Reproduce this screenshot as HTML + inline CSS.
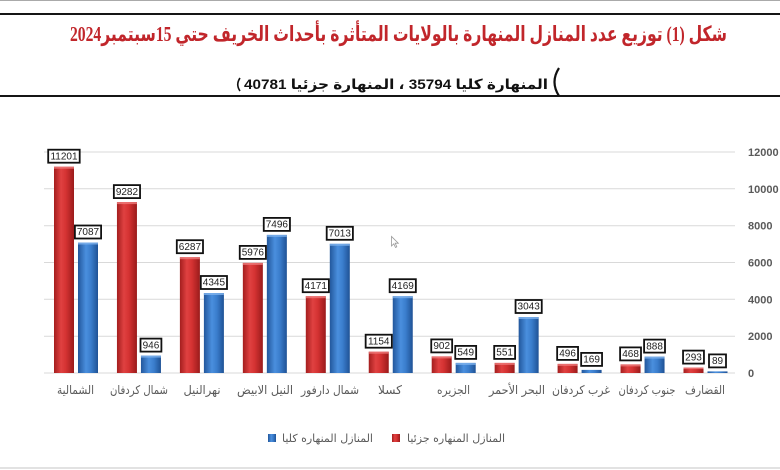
<!DOCTYPE html>
<html>
<head>
<meta charset="utf-8">
<style>
html,body{margin:0;padding:0;background:#fff;}
svg{display:block;}
</style>
</head>
<body>
<svg width="780" height="470" viewBox="0 0 780 470" xmlns="http://www.w3.org/2000/svg">
<defs>
<linearGradient id="rg" x1="0" y1="0" x2="1" y2="0">
<stop offset="0" stop-color="#a41e1e"/>
<stop offset="0.35" stop-color="#e04141"/>
<stop offset="0.6" stop-color="#d43232"/>
<stop offset="1" stop-color="#9a1b1b"/>
</linearGradient>
<linearGradient id="bg" x1="0" y1="0" x2="1" y2="0">
<stop offset="0" stop-color="#22579c"/>
<stop offset="0.4" stop-color="#4a8fde"/>
<stop offset="0.65" stop-color="#3a7dcc"/>
<stop offset="1" stop-color="#1f5295"/>
</linearGradient>
</defs>
<rect x="0" y="0" width="780" height="470" fill="#fff"/>
<rect x="0" y="0" width="780" height="1" fill="#aaa"/>
<rect x="0" y="13" width="780" height="2" fill="#151515"/>
<rect x="0" y="95" width="780" height="2" fill="#151515"/>
<rect x="0" y="467" width="780" height="2" fill="#e2e2e2"/>

<!-- title -->
<text x="398.5" y="41" text-anchor="middle" direction="rtl" textLength="657" lengthAdjust="spacingAndGlyphs" font-family="Liberation Serif, DejaVu Sans, serif" font-weight="bold" font-size="21" fill="#c1262b">شكل (1) توزيع عدد المنازل المنهارة بالولايات المتأثرة بأحداث الخريف حتي 15سبتمبر2024</text>

<!-- subtitle -->
<text x="396" y="89" text-anchor="middle" direction="rtl" textLength="304" lengthAdjust="spacingAndGlyphs" font-family="Liberation Sans, DejaVu Sans, sans-serif" font-weight="bold" font-size="14" fill="#111">المنهارة  كليا 35794 ، المنهارة جزئيا 40781</text>
<path d="M240 78 Q235.5 84.5 240 91" fill="none" stroke="#111" stroke-width="1.6"/>
<path d="M559 68 Q550 82 559 96" fill="none" stroke="#111" stroke-width="2.2"/>

<!-- gridlines -->
<g stroke="#d9d9d9" stroke-width="1">
<line x1="44" y1="152" x2="735" y2="152"/>
<line x1="44" y1="188.8" x2="735" y2="188.8"/>
<line x1="44" y1="225.7" x2="735" y2="225.7"/>
<line x1="44" y1="262.5" x2="735" y2="262.5"/>
<line x1="44" y1="299.3" x2="735" y2="299.3"/>
<line x1="44" y1="336.2" x2="735" y2="336.2"/>
<line x1="44" y1="373" x2="735" y2="373"/>
</g>

<!-- axis labels -->
<g font-family="Liberation Sans, sans-serif" font-weight="bold" font-size="11" fill="#5a5a5a">
<text x="748" y="156">12000</text>
<text x="748" y="192.8">10000</text>
<text x="748" y="229.7">8000</text>
<text x="748" y="266.5">6000</text>
<text x="748" y="303.3">4000</text>
<text x="748" y="340.2">2000</text>
<text x="748" y="377">0</text>
</g>

<!-- red bars -->
<g fill="url(#rg)">
<rect x="54" y="166.7" width="20" height="206.3"/>
<rect x="116.95" y="202.1" width="20" height="170.9"/>
<rect x="179.9" y="257.2" width="20" height="115.8"/>
<rect x="242.85" y="262.9" width="20" height="110.1"/>
<rect x="305.8" y="296.2" width="20" height="76.8"/>
<rect x="368.75" y="351.7" width="20" height="21.3"/>
<rect x="431.7" y="356.4" width="20" height="16.6"/>
<rect x="494.65" y="362.9" width="20" height="10.1"/>
<rect x="557.6" y="363.9" width="20" height="9.1"/>
<rect x="620.55" y="364.4" width="20" height="8.6"/>
<rect x="683.5" y="367.6" width="20" height="5.4"/>
</g>
<g fill="#ef7a7a" opacity="0.8">
<rect x="54" y="166.7" width="20" height="2"/>
<rect x="116.95" y="202.1" width="20" height="2"/>
<rect x="179.9" y="257.2" width="20" height="2"/>
<rect x="242.85" y="262.9" width="20" height="2"/>
<rect x="305.8" y="296.2" width="20" height="2"/>
<rect x="368.75" y="351.7" width="20" height="2"/>
<rect x="431.7" y="356.4" width="20" height="2"/>
<rect x="494.65" y="362.9" width="20" height="2"/>
<rect x="557.6" y="363.9" width="20" height="2"/>
<rect x="620.55" y="364.4" width="20" height="2"/>
<rect x="683.5" y="367.6" width="20" height="1.5"/>
</g>

<!-- blue bars -->
<g fill="url(#bg)">
<rect x="78" y="242.5" width="20" height="130.5"/>
<rect x="140.95" y="355.6" width="20" height="17.4"/>
<rect x="203.9" y="293" width="20" height="80"/>
<rect x="266.85" y="234.9" width="20" height="138.1"/>
<rect x="329.8" y="243.8" width="20" height="129.2"/>
<rect x="392.75" y="296.2" width="20" height="76.8"/>
<rect x="455.7" y="362.9" width="20" height="10.1"/>
<rect x="518.65" y="317" width="20" height="56"/>
<rect x="581.6" y="369.9" width="20" height="3.1"/>
<rect x="644.55" y="356.6" width="20" height="16.4"/>
<rect x="707.5" y="371.4" width="20" height="1.6"/>
</g>
<g fill="#7fb3ee" opacity="0.8">
<rect x="78" y="242.5" width="20" height="2"/>
<rect x="140.95" y="355.6" width="20" height="2"/>
<rect x="203.9" y="293" width="20" height="2"/>
<rect x="266.85" y="234.9" width="20" height="2"/>
<rect x="329.8" y="243.8" width="20" height="2"/>
<rect x="392.75" y="296.2" width="20" height="2"/>
<rect x="455.7" y="362.9" width="20" height="2"/>
<rect x="518.65" y="317" width="20" height="2"/>
<rect x="644.55" y="356.6" width="20" height="2"/>
</g>

<!-- value label boxes -->
<g fill="#fff" stroke="#111" stroke-width="1.8">
<rect x="48.2" y="149.7" width="31.5" height="13"/>
<rect x="74.9" y="225.5" width="26.2" height="13"/>
<rect x="113.85" y="185.1" width="26.2" height="13"/>
<rect x="140.5" y="338.6" width="20.9" height="13"/>
<rect x="176.8" y="240.2" width="26.2" height="13"/>
<rect x="200.8" y="276" width="26.2" height="13"/>
<rect x="239.75" y="245.9" width="26.2" height="13"/>
<rect x="263.75" y="217.9" width="26.2" height="13"/>
<rect x="302.7" y="279.2" width="26.2" height="13"/>
<rect x="326.7" y="226.8" width="26.2" height="13"/>
<rect x="365.65" y="334.7" width="26.2" height="13"/>
<rect x="389.65" y="279.2" width="26.2" height="13"/>
<rect x="431.25" y="339.4" width="20.9" height="13"/>
<rect x="455.25" y="345.9" width="20.9" height="13"/>
<rect x="494.2" y="345.9" width="20.9" height="13"/>
<rect x="515.55" y="300" width="26.2" height="13"/>
<rect x="557.15" y="346.9" width="20.9" height="13"/>
<rect x="581.15" y="352.9" width="20.9" height="13"/>
<rect x="620.1" y="347.4" width="20.9" height="13"/>
<rect x="644.1" y="339.6" width="20.9" height="13"/>
<rect x="683.05" y="350.6" width="20.9" height="13"/>
<rect x="709" y="354.4" width="17" height="13"/>
</g>
<g font-family="Liberation Sans, sans-serif" font-size="10" fill="#222" text-anchor="middle">
<text x="64" y="159.4">11201</text>
<text x="88" y="235.2">7087</text>
<text x="126.95" y="194.8">9282</text>
<text x="150.95" y="348.3">946</text>
<text x="189.9" y="249.9">6287</text>
<text x="213.9" y="285.7">4345</text>
<text x="252.85" y="255.6">5976</text>
<text x="276.85" y="227.6">7496</text>
<text x="315.8" y="288.9">4171</text>
<text x="339.8" y="236.5">7013</text>
<text x="378.75" y="344.4">1154</text>
<text x="402.75" y="288.9">4169</text>
<text x="441.7" y="349.1">902</text>
<text x="465.7" y="355.6">549</text>
<text x="504.65" y="355.6">551</text>
<text x="528.65" y="309.7">3043</text>
<text x="567.6" y="356.6">496</text>
<text x="591.6" y="362.6">169</text>
<text x="630.55" y="357.1">468</text>
<text x="654.55" y="349.3">888</text>
<text x="693.5" y="360.3">293</text>
<text x="717.5" y="364.1">89</text>
</g>

<!-- category labels -->
<g font-family="DejaVu Sans, sans-serif" font-size="12" fill="#5a5a5a" text-anchor="middle" direction="rtl">
<text x="75.5" y="394" textLength="37" lengthAdjust="spacingAndGlyphs">الشمالية</text>
<text x="139" y="394" textLength="58" lengthAdjust="spacingAndGlyphs">شمال كردفان</text>
<text x="202" y="394" textLength="37" lengthAdjust="spacingAndGlyphs">نهرالنيل</text>
<text x="265" y="394" textLength="56" lengthAdjust="spacingAndGlyphs">النيل الابيض</text>
<text x="330" y="394" textLength="58" lengthAdjust="spacingAndGlyphs">شمال دارفور</text>
<text x="390" y="394" textLength="24" lengthAdjust="spacingAndGlyphs">كسلا</text>
<text x="453.5" y="394" textLength="33" lengthAdjust="spacingAndGlyphs">الجزيره</text>
<text x="517" y="394" textLength="56" lengthAdjust="spacingAndGlyphs">البحر الأحمر</text>
<text x="581" y="394" textLength="58" lengthAdjust="spacingAndGlyphs">غرب كردفان</text>
<text x="647" y="394" textLength="57" lengthAdjust="spacingAndGlyphs">جنوب كردفان</text>
<text x="705" y="394" textLength="40" lengthAdjust="spacingAndGlyphs">القضارف</text>
</g>

<!-- legend -->
<rect x="392" y="434" width="8" height="8" fill="url(#rg)"/>
<text x="456" y="442" text-anchor="middle" direction="rtl" textLength="98" lengthAdjust="spacingAndGlyphs" font-family="DejaVu Sans, sans-serif" font-size="11" fill="#5a5a5a">المنازل المنهاره جزئيا</text>
<rect x="268" y="434" width="8" height="8" fill="url(#bg)"/>
<text x="327.5" y="442" text-anchor="middle" direction="rtl" textLength="91" lengthAdjust="spacingAndGlyphs" font-family="DejaVu Sans, sans-serif" font-size="11" fill="#5a5a5a">المنازل المنهاره كليا</text>

<!-- cursor -->
<path d="M391.5 236.5 L391.5 246 L393.8 243.8 L395.5 247.5 L396.8 246.8 L395.2 243.2 L398.3 243.2 Z" fill="#fff" stroke="#999" stroke-width="0.8"/>
</svg>
</body>
</html>
